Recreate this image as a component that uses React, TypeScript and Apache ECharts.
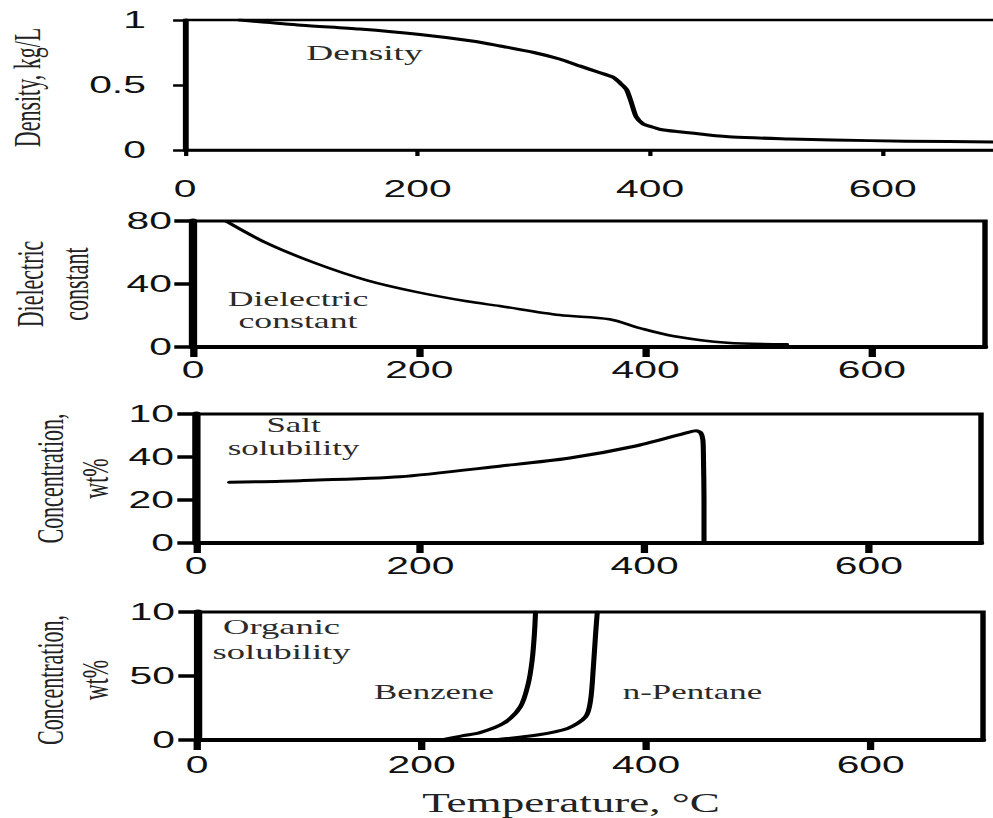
import React, { useEffect, useRef } from "react";
import * as echarts from "echarts";

// ---------- data ----------
const xTicks = [0, 200, 400, 600];
const xTickLabels = ["0", "200", "400", "600"];

const densityTicks = [0, 0.5, 1];
const densityTickLabels = ["0", "0.5", "1"];
const dielectricTicks = [0, 40, 80];
const dielectricTickLabels = ["0", "40", "80"];
const saltTicks = [0, 20, 40, 60];
const saltTickLabels = ["0", "20", "40", "10"];
const organicTicks = [0, 50, 100];
const organicTickLabels = ["0", "50", "10"];

const densityT = [47, 100, 150, 200, 250, 271, 300, 322, 340, 355, 368, 376, 380, 384, 388, 394, 400, 408, 425, 443, 471, 520, 557, 620, 700];
const densityV = [1.0, 0.96, 0.93, 0.89, 0.835, 0.8, 0.75, 0.7, 0.645, 0.6, 0.56, 0.5, 0.46, 0.36, 0.256, 0.2, 0.182, 0.16, 0.14, 0.123, 0.1, 0.085, 0.077, 0.068, 0.062];

const dielectricT = [29, 65, 109, 153, 197, 242, 271, 324, 368, 395, 424, 472, 525];
const dielectricV = [80, 66, 53, 42.5, 35, 29, 26, 20.3, 17.6, 12, 7, 2.7, 1.7];

const saltT = [30, 93, 182, 272, 332, 391, 439, 446, 450, 452, 452.5, 453, 453];
const saltV = [28.2, 29, 30.8, 35.8, 39.4, 45, 51.5, 52.2, 51.3, 48, 40, 20, 0];

const benzeneT = [220, 237, 252, 273, 288, 295, 298.5, 300.5, 301.5];
const benzeneV = [0.5, 3.4, 5.7, 13, 26, 44, 62.5, 83, 100];

const pentaneT = [268, 303, 330, 346, 350.5, 353, 355, 356.5];
const pentaneV = [0.5, 3.9, 9, 18, 31, 57, 83, 100];

// ---------- layout ----------
const W = 584;
const H = 818;
const S = 993 / W;
const px = (v: number) => v / S;

const pair = (xs: number[], ys: number[]) => xs.map((x, i) => [x, ys[i]]);

const SANS = "Liberation Sans";
const SERIF = "Liberation Serif";

function makeX(gridIndex: number, lineW: number, tickW: number, tickLen: number, margin: number) {
  return {
    type: "value",
    gridIndex,
    min: 0,
    max: 700,
    splitLine: { show: false },
    axisLine: { show: true, onZero: false, lineStyle: { color: "#000", width: lineW } },
    axisTick: { show: true, customValues: xTicks, length: tickLen, lineStyle: { color: "#000", width: tickW } },
    axisLabel: {
      customValues: xTicks,
      formatter: (v: number) => xTickLabels[xTicks.indexOf(v)] ?? "",
      margin,
      color: "#111",
      fontFamily: SANS,
      fontSize: 24,
    },
  };
}

function makeY(gridIndex: number, max: number, ticks: number[], labels: string[], lineW: number, tickW: number, tickLen: number, margin: number) {
  return {
    type: "value",
    gridIndex,
    min: 0,
    max,
    splitLine: { show: false },
    axisLine: { show: true, onZero: false, lineStyle: { color: "#000", width: lineW } },
    axisTick: { show: true, customValues: ticks, length: tickLen, lineStyle: { color: "#000", width: tickW } },
    axisLabel: {
      customValues: ticks,
      formatter: (v: number) => labels[ticks.indexOf(v)] ?? "",
      margin,
      color: "#111",
      fontFamily: SANS,
      fontSize: 24,
    },
  };
}

function grid(left: number, right: number, top: number, bottom: number, bw: number) {
  return {
    left: px(left),
    width: px(right - left),
    top,
    height: bottom - top,
    show: true,
    borderColor: "#000",
    borderWidth: bw,
    backgroundColor: "transparent",
    containLabel: false,
    outerBoundsMode: "none",
  };
}

function lineSeries(name: string, idx: number, data: number[][], width: number, smooth: number) {
  return {
    name,
    type: "line",
    xAxisIndex: idx,
    yAxisIndex: idx,
    data,
    showSymbol: false,
    symbol: "none",
    smooth,
    lineStyle: { color: "#000", width, join: "round", cap: "round" },
    silent: true,
  };
}

function label(text: string, xFinal: number, y: number, size: number, lineHeight?: number, rotate?: boolean, color = "#2a2a2a") {
  return {
    type: "text",
    x: px(xFinal),
    y,
    rotation: rotate ? Math.PI / 2 : 0,
    silent: true,
    style: {
      text,
      fontFamily: SERIF,
      fontSize: size,
      fill: color,
      lineHeight: lineHeight ?? size,
      align: "center",
      verticalAlign: "middle",
      textAlign: "center",
      textVerticalAlign: "middle",
    },
  };
}

export default function App() {
  const ref = useRef<HTMLDivElement>(null);

  useEffect(() => {
    if (!ref.current) return;
    const chart = echarts.init(ref.current, null, { renderer: "svg" });
    const option: any = {
      animation: false,
      backgroundColor: "#fff",
      grid: [
        grid(185, 999, 20, 150, 2.5),
        grid(193, 985, 221, 347, 3.2),
        grid(196, 981, 414, 543, 3.2),
        grid(197, 983, 612, 740, 3.2),
      ],
      xAxis: [
        makeX(0, 2.5, 2.5, 6, 26.5),
        makeX(1, 3.8, 4.3, 10, 11),
        makeX(2, 3.8, 4.3, 10, 11),
        makeX(3, 3.8, 4.3, 10, 13),
      ],
      yAxis: [
        makeY(0, 1, densityTicks, densityTickLabels, 3, 2.5, 7, 23),
        makeY(1, 80, dielectricTicks, dielectricTickLabels, 4.9, 3.5, 11, 12.4),
        makeY(2, 60, saltTicks, saltTickLabels, 4.9, 3.5, 11, 13),
        makeY(3, 100, organicTicks, organicTickLabels, 4.9, 3.5, 11, 13),
      ],
      series: [
        lineSeries("Density", 0, pair(densityT, densityV), 3, 0.25),
        lineSeries("Dielectric constant", 1, pair(dielectricT, dielectricV), 2.5, 0.3),
        lineSeries("Salt solubility", 2, pair(saltT, saltV), 3, 0.25),
        lineSeries("Benzene", 3, pair(benzeneT, benzeneV), 3, 0.3),
        lineSeries("n-Pentane", 3, pair(pentaneT, pentaneV), 3, 0.3),
      ],
      graphic: [
        // y-axis titles
        label("Density, kg/L", 27.5, 87.5, 22, 22, true, "#222"),
        label("Dielectric\nconstant", 31.2 * S, 284, 22, 26.5, true, "#222"),
        label("Concentration,\nwt%", 43.1 * S, 478.5, 22, 26.8, true, "#222"),
        label("Concentration,\nwt%", 43 * S, 680, 22, 26.8, true, "#222"),
        // annotations
        label("Density", 364.5, 52.5, 22),
        label("Dielectric\nconstant", 298, 310, 21, 22),
        label("Salt\nsolubility", 293.5, 437, 20.5, 23),
        label("Organic\nsolubility", 281.5, 638.5, 21.5, 25),
        label("Benzene", 434, 692.4, 20.5),
        label("n-Pentane", 692.5, 692.4, 20.5),
        // x title
        label("Temperature, °C", 571, 803, 26.5, 26.5, false, "#222"),
      ],
    };
    chart.setOption(option);
    return () => chart.dispose();
  }, []);

  return (
    <div style={{ position: "fixed", left: 0, top: 0, width: 993, height: 818, overflow: "hidden", background: "#fff" }}>
      <div
        ref={ref}
        style={{ width: W, height: H, transform: `scaleX(${S})`, transformOrigin: "0 0" }}
      />
    </div>
  );
}
